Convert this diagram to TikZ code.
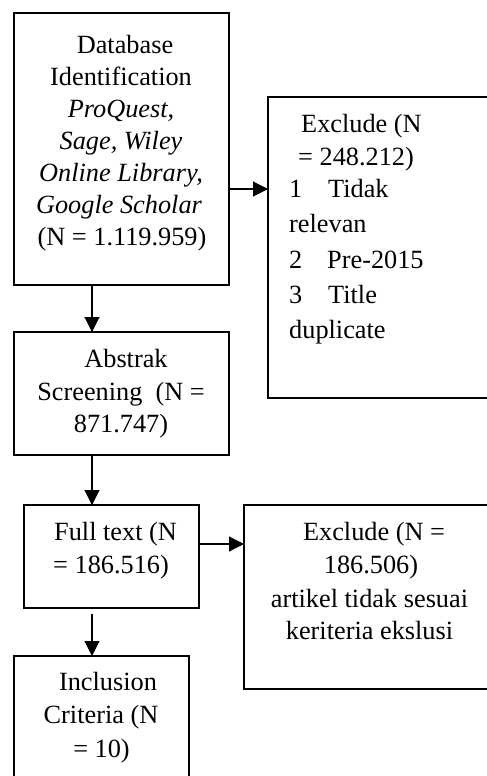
\documentclass[tikz,border=0pt]{standalone}
\usepackage{fontspec}
\setmainfont{Liberation Serif}
\usetikzlibrary{arrows.meta}
\tikzset{
  box/.style={draw=black, line width=1.3pt, rectangle, anchor=north west, inner sep=0pt, outer sep=0pt},
  ln/.style={anchor=base, inner sep=0pt, font=\fontsize{26.3}{32}\selectfont},
  lnw/.style={ln, anchor=base west},
  arr/.style={draw=black, line width=1.1pt, -{Triangle[length=15pt,width=15pt]}}
}
\begin{document}
\begin{tikzpicture}[x=1pt,y=-1pt]
\useasboundingbox (0,0) rectangle (487,776);
\clip (0,0) rectangle (487,776);
\fill[white] (0,0) rectangle (487,776);
% boxes
\node[box, minimum width=215pt, minimum height=272pt] (db) at (14,13) {};
\node[box, minimum width=215pt, minimum height=123pt] (ab) at (14,332) {};
\node[box, minimum width=175pt, minimum height=103pt] (ft) at (24,505) {};
\node[box, minimum width=175pt, minimum height=144pt] (inc) at (14,656) {};
\node[box, minimum width=232pt, minimum height=301pt] (ex1) at (268,97) {};
\node[box, minimum width=256pt, minimum height=184pt] (ex2) at (244,505) {};
% database text
\node[ln] (db1) at (125,53) {Database};
\node[ln] (db2) at (121,85) {Identification};
\node[ln] (db3) at (121,117) {\itshape ProQuest,};
\node[ln] (db4) at (121,149) {\itshape Sage, Wiley};
\node[ln] (db5) at (121,181) {\itshape Online Library,};
\node[ln] (db6) at (119,213) {\itshape Google Scholar};
\node[ln] (db7) at (122,245) {(N = 1.119.959)};
% exclude 1 text
\node[lnw] (e1a) at (301,132) {Exclude (N};
\node[lnw] (e1b) at (298,165) {= 248.212)};
\node[lnw] (e1c) at (289,197) {1};
\node[lnw] (e1d) at (328,197) {Tidak};
\node[lnw] (e1e) at (289,232) {relevan};
\node[lnw] (e1f) at (289,268) {2};
\node[lnw] (e1g) at (327,268) {Pre-2015};
\node[lnw] (e1h) at (289,303) {3};
\node[lnw] (e1i) at (328,303) {Title};
\node[lnw] (e1j) at (289,338) {duplicate};
% abstrak text
\node[ln] (ab1) at (126,367) {Abstrak};
\node[ln] (ab2) at (121,400) {Screening\ \ (N =};
\node[ln] (ab3) at (121,432) {871.747)};
% full text
\node[lnw] (ft1) at (54,540) {Full text (N};
\node[lnw] (ft2) at (53,573) {= 186.516)};
% exclude 2 text
\node[ln] (e2a) at (374,540) {Exclude (N =};
\node[ln] (e2b) at (371,573) {186.506)};
\node[ln] (e2c) at (369.5,607) {artikel tidak sesuai};
\node[ln] (e2d) at (369.5,639) {keriteria ekslusi};
% inclusion text
\node[ln] (in1) at (108,690) {Inclusion};
\node[ln] (in2) at (101,723) {Criteria (N};
\node[ln] (in3) at (101.5,757) {= 10)};
% connectors
\coordinate (spine) at (92,0);
\coordinate (r1) at (0,189);
\coordinate (r2) at (0,544);
\coordinate (ftgap) at (92,614);
\draw[arr] (db.south -| spine) -- (ab.north -| spine);
\draw[arr] (ab.south -| spine) -- (ft.north -| spine);
\draw[arr] (ftgap) -- (inc.north -| spine);
\draw[arr] (db.east |- r1) -- (ex1.west |- r1);
\draw[arr] (ft.east |- r2) -- (ex2.west |- r2);
\end{tikzpicture}
\end{document}
